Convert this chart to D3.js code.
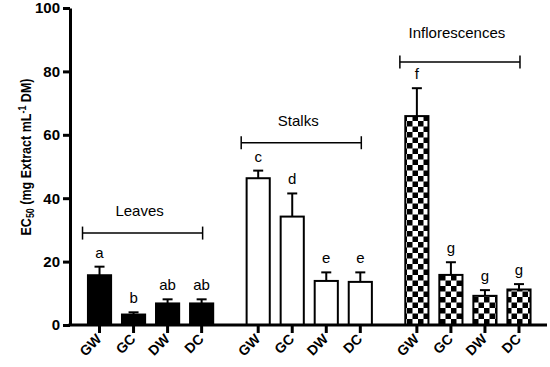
<!DOCTYPE html>
<html>
<head>
<meta charset="utf-8">
<script src="https://cdn.jsdelivr.net/npm/d3@7"></script>
<style>
  body { margin: 0; background: #fff; }
  text { font-family: Arial, "Liberation Sans", sans-serif; }
</style>
</head>
<body>
<script>
// data
var groups = ["Leaves", "Stalks", "Inflorescences"];
var samples = ["GW", "GC", "DW", "DC"];
var means = [
    [15.7, 3.3, 6.8, 6.8],
    [46.3, 34.2, 13.9, 13.6],
    [65.9, 15.8, 9.2, 11.2]
];
var errors = [
    [2.7, 0.7, 1.3, 1.3],
    [2.4, 7.3, 2.7, 3.0],
    [8.8, 4.0, 1.8, 1.7]
];
var letters = [
    ["a", "b", "ab", "ab"],
    ["c", "d", "e", "e"],
    ["f", "g", "g", "g"]
];
var bracketLevels = [29, 57.5, 83];
var yTicks = [0, 20, 40, 60, 80, 100];

var width = 550, height = 367;
var fills = ["#000", "#fff", "url(#checker)"];
var labelGap = [17, 17, 24];

var svg = d3.select("body").append("svg")
    .attr("width", width)
    .attr("height", height);

// checkerboard fill for the inflorescence bars
var pat = svg.append("defs").append("pattern")
    .attr("id", "checker")
    .attr("patternUnits", "userSpaceOnUse")
    .attr("width", 11)
    .attr("height", 11);
pat.append("rect").attr("width", 11).attr("height", 11).attr("fill", "#fff");
pat.append("rect").attr("width", 5.5).attr("height", 5.5).attr("fill", "#000");
pat.append("rect").attr("x", 5.5).attr("y", 5.5).attr("width", 5.5).attr("height", 5.5).attr("fill", "#000");

var y = d3.scaleLinear().domain([0, 100]).range([325, 8]);

var xGroup = d3.scaleBand()
    .domain(groups)
    .range([82.5, 536])
    .paddingInner(0.142)
    .paddingOuter(0);

var xInner = d3.scaleBand()
    .domain(samples)
    .range([0, xGroup.bandwidth()])
    .paddingInner(0.32)
    .paddingOuter(0.16);

var rows = [];
groups.forEach(function (g, gi) {
    samples.forEach(function (s, si) {
        rows.push({
            group: g, gi: gi, sample: s,
            mean: means[gi][si], err: errors[gi][si], letter: letters[gi][si]
        });
    });
});
function cx(d) { return xGroup(d.group) + xInner(d.sample) + xInner.bandwidth() / 2; }

// bars
svg.selectAll("rect.bar")
    .data(rows)
    .enter().append("rect")
    .attr("class", "bar")
    .attr("x", d => xGroup(d.group) + xInner(d.sample))
    .attr("y", d => y(d.mean))
    .attr("width", xInner.bandwidth())
    .attr("height", d => y(0) - y(d.mean))
    .attr("fill", d => fills[d.gi])
    .attr("stroke", "#000")
    .attr("stroke-width", 2);

// upper error bars
var eb = svg.selectAll("g.err")
    .data(rows)
    .enter().append("g")
    .attr("class", "err")
    .attr("stroke", "#000")
    .attr("stroke-width", 2);
eb.append("line")
    .attr("x1", cx).attr("x2", cx)
    .attr("y1", d => y(d.mean)).attr("y2", d => y(d.mean + d.err));
eb.append("line")
    .attr("x1", d => cx(d) - 5).attr("x2", d => cx(d) + 5)
    .attr("y1", d => y(d.mean + d.err)).attr("y2", d => y(d.mean + d.err));

// significance letters
svg.selectAll("text.letter")
    .data(rows)
    .enter().append("text")
    .attr("class", "letter")
    .attr("x", cx)
    .attr("y", d => y(d.mean + d.err) - 9)
    .attr("text-anchor", "middle")
    .attr("font-size", 15)
    .text(d => d.letter);

// group brackets
var br = svg.selectAll("g.bracket")
    .data(groups)
    .enter().append("g")
    .attr("class", "bracket")
    .attr("stroke", "#000")
    .attr("stroke-width", 1.5);
function bx0(g) { return xGroup(g) + xInner("GW") + xInner.bandwidth() / 2 - 17; }
function bx1(g) { return xGroup(g) + xInner("DC") + xInner.bandwidth() / 2 + 1; }
br.append("line")
    .attr("x1", bx0).attr("x2", bx1)
    .attr("y1", (g, i) => y(bracketLevels[i])).attr("y2", (g, i) => y(bracketLevels[i]));
br.append("line")
    .attr("x1", bx0).attr("x2", bx0)
    .attr("y1", (g, i) => y(bracketLevels[i]) - 6.5).attr("y2", (g, i) => y(bracketLevels[i]) + 6.5);
br.append("line")
    .attr("x1", bx1).attr("x2", bx1)
    .attr("y1", (g, i) => y(bracketLevels[i]) - 6.5).attr("y2", (g, i) => y(bracketLevels[i]) + 6.5);
svg.selectAll("text.group")
    .data(groups)
    .enter().append("text")
    .attr("class", "group")
    .attr("x", g => (bx0(g) + bx1(g)) / 2 - 3)
    .attr("y", (g, i) => y(bracketLevels[i]) - labelGap[i])
    .attr("text-anchor", "middle")
    .attr("font-size", 15)
    .text(g => g);

// y axis
var yAxis = svg.append("g")
    .attr("transform", "translate(70,0)")
    .call(d3.axisLeft(y).tickValues(yTicks).tickSize(7).tickPadding(3).tickSizeOuter(0));
yAxis.select(".domain").attr("stroke-width", 3);
yAxis.selectAll(".tick line").attr("stroke-width", 3);
yAxis.selectAll(".tick text")
    .attr("font-size", 15)
    .attr("font-weight", "bold")
    .attr("font-family", "Arial, 'Liberation Sans', sans-serif")
    .attr("fill", "#000");

// x baseline with ticks under each bar
svg.append("line")
    .attr("x1", 68.5).attr("x2", 547)
    .attr("y1", y(0)).attr("y2", y(0))
    .attr("stroke", "#000").attr("stroke-width", 3);
svg.selectAll("line.xtick")
    .data(rows)
    .enter().append("line")
    .attr("class", "xtick")
    .attr("x1", cx).attr("x2", cx)
    .attr("y1", y(0)).attr("y2", y(0) + 8)
    .attr("stroke", "#000").attr("stroke-width", 3);
// rotated sample labels
svg.selectAll("text.xlab")
    .data(rows)
    .enter().append("text")
    .attr("class", "xlab")
    .attr("transform", d => "translate(" + (cx(d) - 4) + "," + (y(0) + 8) + ") rotate(-45)")
    .attr("text-anchor", "end")
    .attr("dy", "0.7em")
    .attr("font-size", 14)
    .attr("font-weight", "bold")
    .text(d => d.sample);

// y axis title
var title = svg.append("text")
    .attr("transform", "translate(31,157) rotate(-90)")
    .attr("text-anchor", "middle")
    .attr("font-size", 14)
    .attr("font-weight", "bold")
    .attr("textLength", 157)
    .attr("lengthAdjust", "spacingAndGlyphs");
title.append("tspan").text("EC");
title.append("tspan").attr("font-size", 10).attr("dy", 3).text("50");
title.append("tspan").attr("dy", -3).text(" (mg Extract mL");
title.append("tspan").attr("font-size", 10).attr("dy", -5).text("-1");
title.append("tspan").attr("dy", 5).text(" DM)");
</script>
</body>
</html>
